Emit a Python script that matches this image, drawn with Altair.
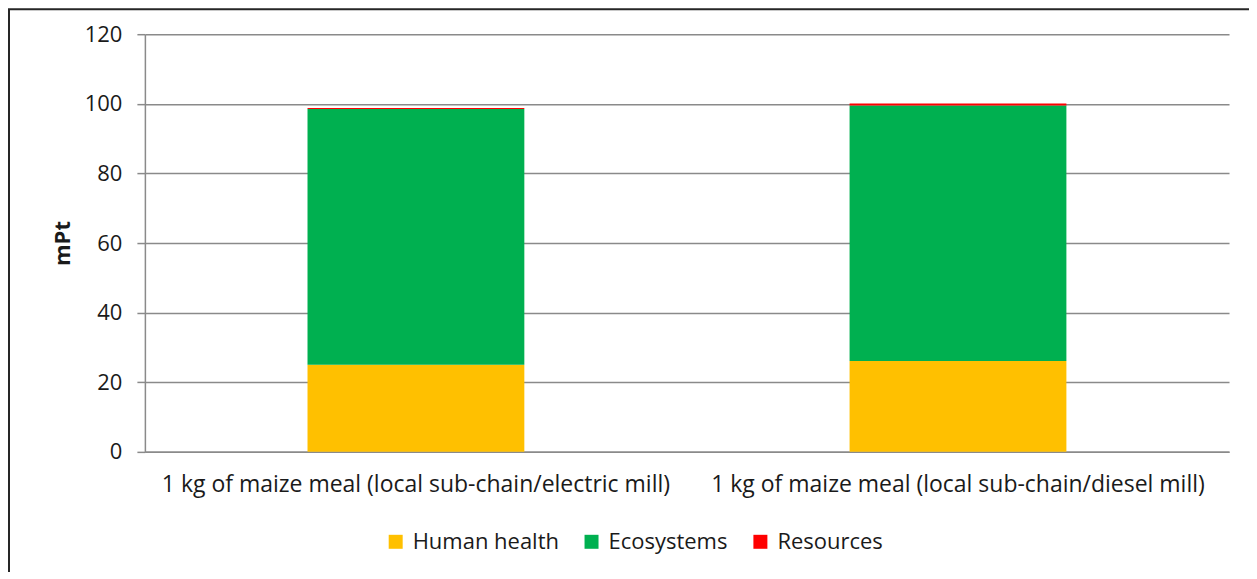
import altair as alt
import pandas as pd

categories = [
    "1 kg of maize meal (local sub-chain/electric mill)",
    "1 kg of maize meal (local sub-chain/diesel mill)",
]
series = ["Human health", "Ecosystems", "Resources"]
human_health = [25.0, 26.1]
ecosystems = [73.5, 73.4]
resources = [0.3, 0.6]
colors = ["#FFC000", "#00B050", "#FF0000"]
y_ticks = [0, 20, 40, 60, 80, 100, 120]

rows = []
for i, c in enumerate(categories):
    for j, (s, vals) in enumerate(zip(series, [human_health, ecosystems, resources])):
        rows.append({"category": c, "series": s, "value": vals[i], "order": j})
df = pd.DataFrame(rows)

FONT = "Open Sans"
GRAY = "#8a8a8a"
FS = 22

bars = alt.Chart(df).mark_bar().encode(
    x=alt.X(
        "category:N",
        sort=categories,
        scale=alt.Scale(paddingInner=0.6, paddingOuter=0.3),
        axis=alt.Axis(
            title=None, labelAngle=0, ticks=False, labelPadding=22, labelLimit=0,
            labelFontSize=23, labelColor="#1a1a1a", labelFont=FONT,
            domainColor=GRAY, domainWidth=1.5, grid=False,
        ),
    ),
    y=alt.Y(
        "value:Q",
        stack="zero",
        scale=alt.Scale(domain=[0, 120], nice=False),
        axis=alt.Axis(
            values=y_ticks, title="mPt", titleFontWeight="bold", titleFontSize=FS,
            titleFont=FONT, titleColor="#1a1a1a", titlePadding=10,
            labelFontSize=FS, labelFont=FONT, labelColor="#1a1a1a", labelPadding=15,
            tickSize=8, tickColor=GRAY, tickWidth=1.5,
            domainColor=GRAY, domainWidth=1.5,
            grid=True, gridColor=GRAY, gridWidth=1.5,
        ),
    ),
    color=alt.Color(
        "series:N",
        scale=alt.Scale(domain=series, range=colors),
        legend=alt.Legend(
            orient="none", legendX=240, legendY=497, direction="horizontal",
            title=None, symbolType="square", symbolSize=196, symbolStrokeWidth=0,
            labelFontSize=FS, labelFont=FONT, labelColor="#1a1a1a",
            columnPadding=21, labelOffset=6,
        ),
    ),
    order=alt.Order("order:Q"),
)

frame = alt.Chart(pd.DataFrame({"a": [0]})).mark_rect(
    filled=False, stroke="#262626", strokeWidth=2, clip=False
).encode(
    x=alt.value(-136), x2=alt.value(1400), y=alt.value(-25), y2=alt.value(900)
)

chart = alt.layer(frame, bars).properties(
    width=1085,
    height=418,
    autosize=alt.AutoSizeParams(type="none"),
    padding={"left": 137, "top": 26, "right": 20, "bottom": 120},
    background="white",
).configure_view(stroke=None)

chart.save("out.html", embed_options={"renderer": "svg", "actions": False})
